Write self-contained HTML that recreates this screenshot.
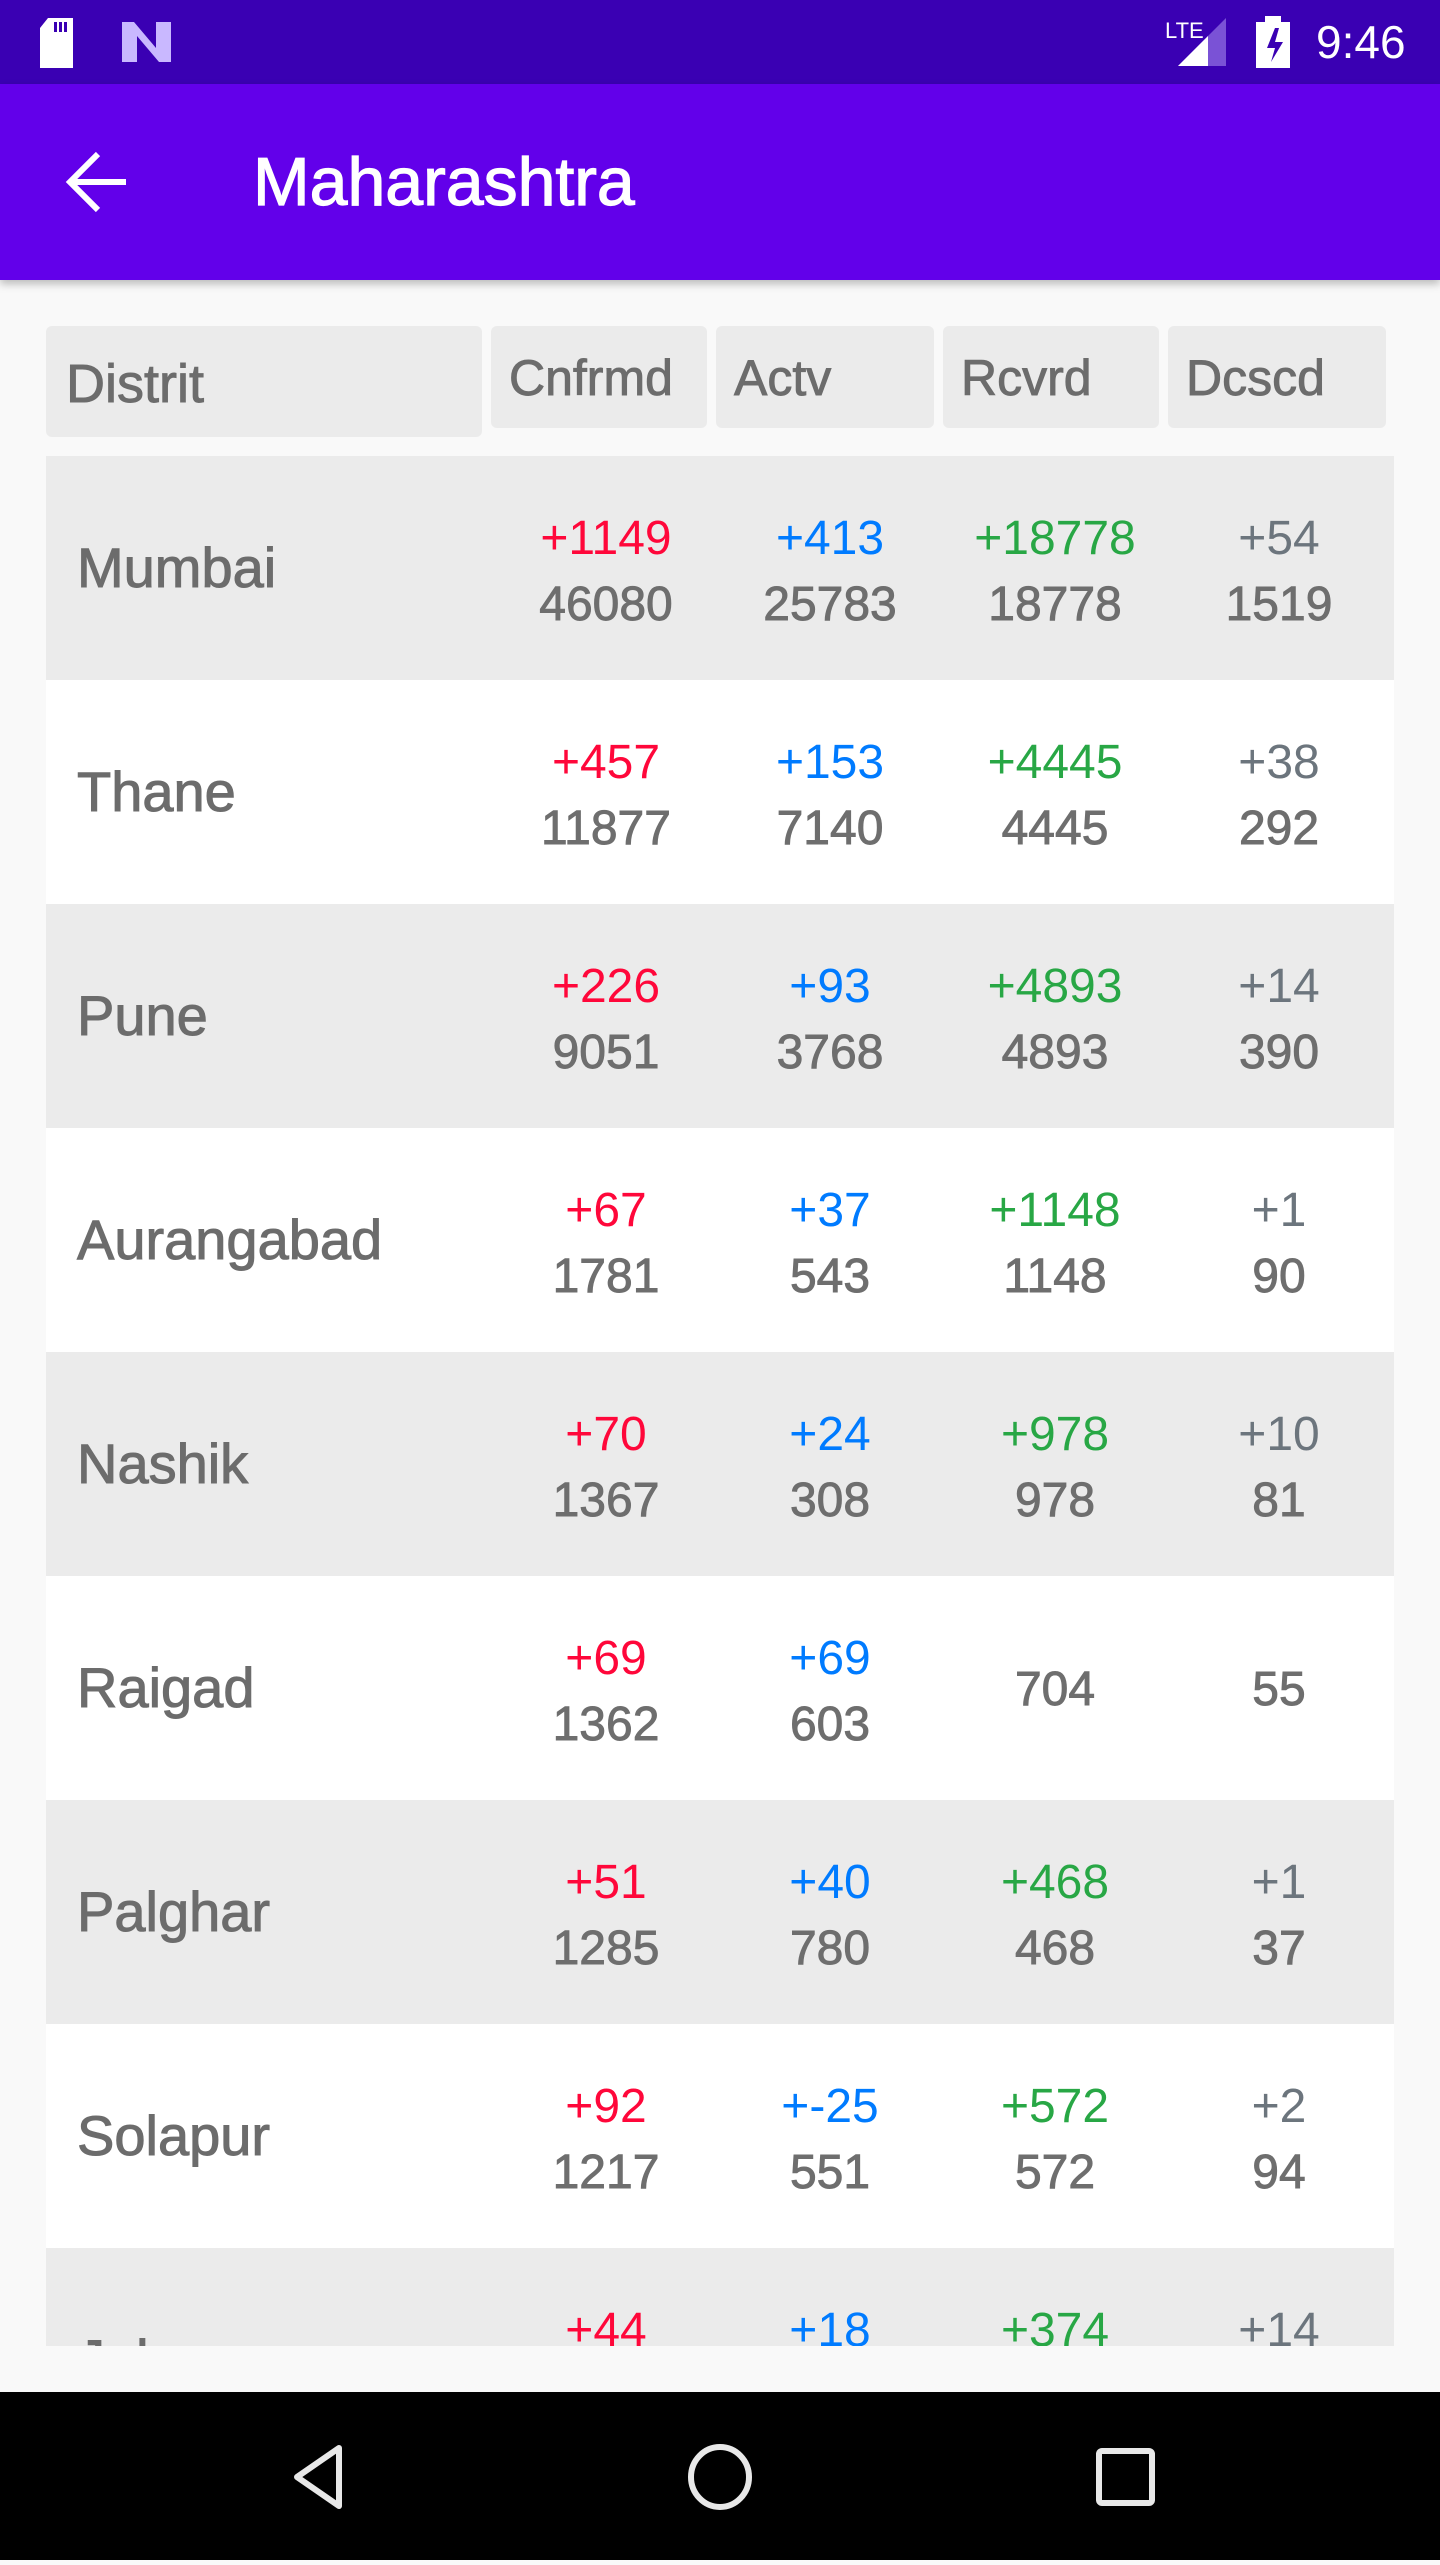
<!DOCTYPE html>
<html><head><meta charset="utf-8">
<style>
*{margin:0;padding:0;box-sizing:border-box}
body{width:1440px;height:2560px;background:#f9f9f9;font-family:"Liberation Sans",Roboto,sans-serif;position:relative;overflow:hidden}
#status{position:absolute;left:0;top:0;width:1440px;height:84px;background:#3a00b3}
#appbar{position:absolute;left:0;top:84px;width:1440px;height:196px;background:#6200ea;box-shadow:0 4px 8px rgba(0,0,0,.25)}
#title{position:absolute;left:253px;top:0;line-height:196px;color:#fff;font-size:68px;-webkit-text-stroke:1.2px #fff}
.hcell{position:absolute;background:#ebebeb;border-radius:6px;color:#6c6c6c;font-size:50px;-webkit-text-stroke:0.9px #6c6c6c}
#table{position:absolute;left:46px;top:456px;width:1348px;height:1890px;overflow:hidden}
.row{position:absolute;left:0;width:1348px;height:224px}
.name{position:absolute;left:31px;top:0;line-height:224px;font-size:56px;color:#6c6c6c;-webkit-text-stroke:1px #6c6c6c}
.val{position:absolute;width:220px;text-align:center;font-size:48px;line-height:56px;transform:translateY(-50%)}
.tot{-webkit-text-stroke:0.9px #6e6e6e}
#nav{position:absolute;left:0;top:2392px;width:1440px;height:168px;background:#000}
</style></head><body>
<div id="status">
  <svg width="1440" height="84">
    <path d="M48 18h25v50h-33v-40z" fill="#fff"/>
    <rect x="54" y="22" width="3" height="10" fill="#3a00b3"/><rect x="59" y="22" width="3" height="10" fill="#3a00b3"/><rect x="64" y="22" width="3" height="10" fill="#3a00b3"/>
    <path d="M122 22h12l22 26v-26h15v40h-12l-22-26v26h-15z" fill="#c9b8ff"/>
    <text x="1165" y="38" font-size="22" fill="#fff" font-family="Liberation Sans">LTE</text>
    <path d="M1178 66l48-48v48z" fill="#7a52d6"/><path d="M1178 66l30-30v30z" fill="#fff"/>
    <rect x="1256" y="22" width="34" height="46" fill="#fff"/><rect x="1265" y="16" width="16" height="8" fill="#fff"/>
    <path d="M1275 28l-8 20h8l-4 14 12-20h-8l4-14z" fill="#3a00b3"/>
    <text x="1316" y="58" font-size="46" fill="#fff" font-family="Liberation Sans">9:46</text>
  </svg>
</div>
<div id="appbar">
  <svg width="80" height="80" style="position:absolute;left:60px;top:58px">
    <path d="M10 40h56M38 12L10 40l28 28" stroke="#fff" stroke-width="6" fill="none"/>
  </svg>
  <div id="title">Maharashtra</div>
</div>
<div class="hcell" style="left:46px;top:326px;width:436px;height:111px;font-size:54px"><span style="position:absolute;left:20px;top:58px;transform:translateY(-50%)">Distrit</span></div>
<div class="hcell" style="left:491px;top:326px;width:216px;height:102px"><span style="position:absolute;left:18px;top:52px;transform:translateY(-50%)">Cnfrmd</span></div>
<div class="hcell" style="left:716px;top:326px;width:218px;height:102px"><span style="position:absolute;left:18px;top:52px;transform:translateY(-50%)">Actv</span></div>
<div class="hcell" style="left:943px;top:326px;width:216px;height:102px"><span style="position:absolute;left:18px;top:52px;transform:translateY(-50%)">Rcvrd</span></div>
<div class="hcell" style="left:1168px;top:326px;width:218px;height:102px"><span style="position:absolute;left:18px;top:52px;transform:translateY(-50%)">Dcscd</span></div>
<div id="table"></div>
<div id="nav">
  <svg width="1440" height="168">
    <path d="M339 56L297 85l42 29z" stroke="#e8e8e8" stroke-width="6" fill="none" stroke-linejoin="round"/>
    <ellipse cx="720" cy="85" rx="29" ry="30" stroke="#e8e8e8" stroke-width="6" fill="none"/>
    <rect x="1099" y="59" width="53" height="52" rx="3" stroke="#e8e8e8" stroke-width="6" fill="none"/>
  </svg>
</div>
<script>
const districts=["Mumbai","Thane","Pune","Aurangabad","Nashik","Raigad","Palghar","Solapur","Jalgaon"];
const confirmedDelta=["+1149","+457","+226","+67","+70","+69","+51","+92","+44"];
const confirmed=["46080","11877","9051","1781","1367","1362","1285","1217",""];
const activeDelta=["+413","+153","+93","+37","+24","+69","+40","+-25","+18"];
const active=["25783","7140","3768","543","308","603","780","551",""];
const recoveredDelta=["+18778","+4445","+4893","+1148","+978","","+468","+572","+374"];
const recovered=["18778","4445","4893","1148","978","704","468","572",""];
const deceasedDelta=["+54","+38","+14","+1","+10","","+1","+2","+14"];
const deceased=["1519","292","390","90","81","55","37","94",""];
const cols=[
 {d:confirmedDelta,v:confirmed,c:"#ff073a",x:606,n:"confirmed"},
 {d:activeDelta,v:active,c:"#007bff",x:830,n:"active"},
 {d:recoveredDelta,v:recovered,c:"#28a745",x:1055,n:"recovered"},
 {d:deceasedDelta,v:deceased,c:"#6c757d",x:1279,n:"deceased"}];
const table=document.getElementById('table');
districts.forEach((name,i)=>{
  const row=document.createElement('div');
  row.className='row';
  row.style.top=(i*224)+'px';
  row.style.background=i%2===0?'#ebebeb':'#ffffff';
  
  
  const nm=document.createElement('div');
  nm.className='name';nm.textContent=name;
  
  
  row.appendChild(nm);
  cols.forEach(col=>{
    const left=(col.x-46-110)+'px';
    if(col.d[i]){
      const a=document.createElement('div');
      a.className='val';a.style.left=left;a.style.top='83px';a.style.color=col.c;a.textContent=col.d[i];
      
      
      row.appendChild(a);
    }
    if(col.v[i]){
      const b=document.createElement('div');
      b.className='val tot';b.style.left=left;b.style.top=(col.d[i]?149:114)+'px';b.style.color='#6e6e6e';b.textContent=col.v[i];
      
      
      row.appendChild(b);
    }
  });
  table.appendChild(row);
});
</script>
</body></html>
